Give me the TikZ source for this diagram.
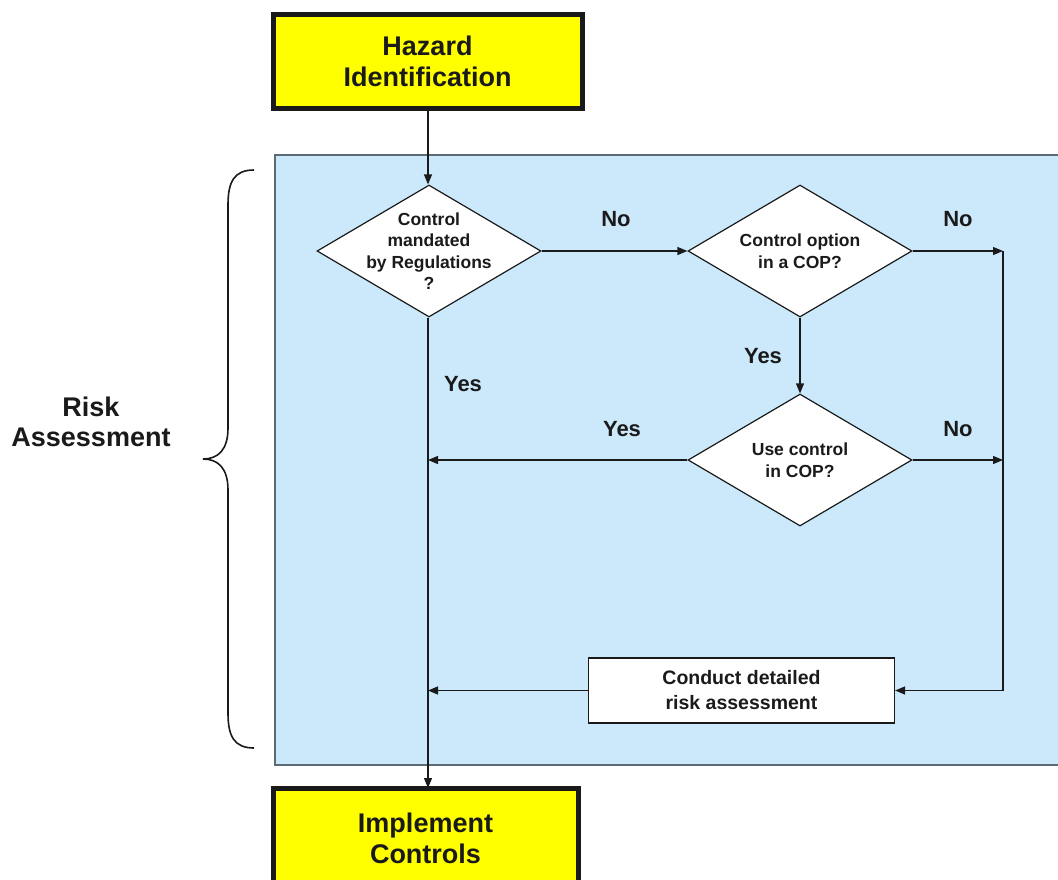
\documentclass[tikz,border=0pt]{standalone}
\usepackage{fontspec}
\setmainfont{Liberation Sans}
\usetikzlibrary{shapes.geometric,arrows.meta}
\definecolor{panelblue}{HTML}{CCE9FB}
\definecolor{paneledge}{HTML}{5A6B78}
\definecolor{boxyellow}{HTML}{FFFF00}
\definecolor{ink}{HTML}{1A1A1A}
\tikzset{
  bigbox/.style={draw=ink, line width=5pt, fill=boxyellow, rectangle, align=center,
    font=\fontsize{27}{31}\selectfont\bfseries, text=ink, inner sep=0pt},
  decision/.style={draw=ink, line width=1.2pt, fill=white, diamond, inner sep=0pt,
    minimum width=224pt, minimum height=132pt},
  dtext/.style={align=center, font=\fontsize{17.5}{21.5}\selectfont\bfseries, text=ink, inner sep=0pt},
  procbox/.style={draw=ink, line width=1.2pt, fill=white, rectangle, align=center,
    minimum width=306pt, minimum height=65pt, inner sep=0pt,
    font=\fontsize{19.5}{25}\selectfont\bfseries, text=ink},
  lbl/.style={font=\fontsize{22}{24}\selectfont\bfseries, text=ink, inner sep=0pt},
  side/.style={font=\fontsize{27}{30}\selectfont\bfseries, text=ink, inner sep=0pt, align=center},
  conn/.style={draw=ink, line width=1.2pt},
  arr/.style={conn, -{Triangle[length=10pt,width=8pt]}},
}
\begin{document}
\begin{tikzpicture}[x=1pt,y=-1pt]
\useasboundingbox (0,0) rectangle (1058,879);
\clip (0,0) rectangle (1058,879);
\fill[white] (0,0) rectangle (1058,879);
% panel
\draw[fill=panelblue, draw=paneledge, line width=1.5pt] (275,155) rectangle (1075,765);
% brace
\draw[line width=1.6pt, ink] (254,170) .. controls (234,170) and (228,182) .. (228,205)
  -- (228,428) .. controls (228,450) and (218,459) .. (203,459)
  .. controls (218,459) and (228,468) .. (228,490)
  -- (228,713) .. controls (228,736) and (234,748) .. (254,748);
\node[side] (risk) at (91,422) {Risk\\Assessment};
% nodes
\node[bigbox, minimum width=309pt, minimum height=94pt] (haz) at (427.5,61) {Hazard\\Identification};
\node[bigbox, minimum width=305pt, minimum height=100pt] (impl) at (425.5,838) {Implement\\Controls};
\node[decision, label={[dtext]center:Control\\mandated\\by Regulations\\?}] (d1) at (429,251) {};
\node[decision, label={[dtext]center:Control option\\in a COP?}] (d2) at (800,251) {};
\node[decision, label={[dtext]center:Use control\\in COP?}] (d3) at (800,460) {};
\node[procbox] (cra) at (741.5,690.5) {Conduct detailed\\risk assessment};
% helper coordinates
\coordinate (jR1) at (1003,251);
\coordinate (jR2) at (1003,460);
\coordinate (jR3) at (1003,690.5);
\coordinate (jL1) at (428,460);
\coordinate (jL2) at (428,690.5);
\coordinate (mTop) at (428,108);
\coordinate (mBot) at (428,788);
% connectors
\draw[arr] (mTop) -- (d1.north -| mTop);
\draw[arr] (d1.east) -- (d2.west);
\draw[arr] (d2.east) -- (jR1);
\draw[conn] (jR1) -- (jR3);
\draw[arr] (jR3) -- (cra.east);
\draw[arr] (d2.south) -- (d3.north);
\draw[arr] (d3.east) -- (jR2);
\draw[arr] (d3.west) -- (jL1);
\draw[arr] (cra.west) -- (jL2);
\draw[arr] (d1.south -| mTop) -- (mBot);
% labels
\node[lbl] (no1) at (616,219) {No};
\node[lbl] (no2) at (958,219) {No};
\node[lbl] (yes1) at (763,356) {Yes};
\node[lbl] (yes2) at (463,384) {Yes};
\node[lbl] (yes3) at (622,429) {Yes};
\node[lbl] (no3) at (958,429) {No};
\end{tikzpicture}
\end{document}
